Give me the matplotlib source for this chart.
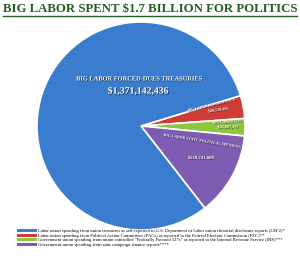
import matplotlib
matplotlib.use("Agg")
import matplotlib.pyplot as plt
import matplotlib.patheffects as pe
from matplotlib.patches import Patch

#Chart data
names = ["Big Labor Forced-Dues Treasuries", "Big Labor Federal PACs",
         "Big Labor 527s", "Big Labor State Political Spending"]
amounts = [1371142436, 60518465, 45667143, 219741608]
colors = ["#3a7ccd", "#d23c37", "#8fc63f", "#7d5cb2"]
legend_labels = [
    "Labor union spending from union treasuries as self-reported to U.S. Department of Labor union financial disclosure reports (LM-2)*",
    "Labor union spending from Political Action Committees (PACs) as reported to the Federal Election Commission (FEC)**",
    "Government union spending from union controlled \u201cFederally Focused 527s\u201d as reported to the Internal Revenue Service (IRS)***",
    "Government union spending from state campaign finance reports****",
]
title = "BIG LABOR SPENT $1.7 BILLION FOR POLITICS"

plt.rcParams['font.family'] = ['Liberation Serif', 'DejaVu Serif']

fig = plt.figure(figsize=(3.0, 2.56), dpi=100)
ax = fig.add_axes([0, 0, 1, 1])

#Pie order: small slices clockwise first, blue last
order = [1, 2, 3, 0]
wedges, _ = ax.pie([amounts[i] for i in order], colors=[colors[i] for i in order],
                   explode=[0.045, 0.045, 0.045, 0.0], startangle=17, counterclock=False,
                   center=(141, 130), radius=104, frame=True,
                   wedgeprops=dict(edgecolor="white", linewidth=1.2))
ax.set_xlim(0, 300)
ax.set_ylim(0, 256)
ax.set_aspect("equal")
ax.axis("off")

shadow = [pe.withSimplePatchShadow(offset=(0.5, -0.5), shadow_rgbFace="black", alpha=0.7)]

#Slice labels
def money(v):
    return f"${v:,}"

ax.text(138, 177, names[0].upper(), ha="center", va="center", color="white",
        fontsize=4.6, fontweight="bold", path_effects=shadow)
ax.text(138, 165, money(amounts[0]), ha="center", va="center", color="white",
        fontsize=7, fontweight="bold", path_effects=shadow)

ax.text(211, 151, names[1].upper(), ha="center", va="center", color="white",
        fontsize=2.6, fontweight="bold", rotation=13, path_effects=shadow)
ax.text(218, 146, money(amounts[1]), ha="center", va="center", color="white",
        fontsize=3, fontweight="bold", rotation=8, path_effects=shadow)

ax.text(227, 134, names[2].upper(), ha="center", va="center", color="white",
        fontsize=2.6, fontweight="bold", rotation=4, path_effects=shadow)
ax.text(228, 129, money(amounts[2]), ha="center", va="center", color="white",
        fontsize=3, fontweight="bold", rotation=2, path_effects=shadow)

ax.text(202, 115, names[3].upper(), ha="center", va="center", color="white",
        fontsize=2.8, fontweight="bold", rotation=-9, path_effects=shadow)
ax.text(201, 98, money(amounts[3]), ha="center", va="center", color="white",
        fontsize=3.4, fontweight="bold", path_effects=shadow)

#Title with underline
ax.text(150, 247, title, ha="center", va="center", color="#245f22",
        fontsize=9.2, fontweight="bold")
ax.plot([3, 297], [240.5, 240.5], color="#245f22", linewidth=1.0)

#Legend
handles = [Patch(facecolor=c) for c in colors]
leg = ax.legend(handles, legend_labels, loc="lower left", bbox_to_anchor=(0.057, 0.035),
                fontsize=3.35, frameon=False, handlelength=4.2, handleheight=0.6,
                labelspacing=0.1, handletextpad=0.3, borderpad=0, borderaxespad=0)

fig.savefig("out.png", dpi=100)
